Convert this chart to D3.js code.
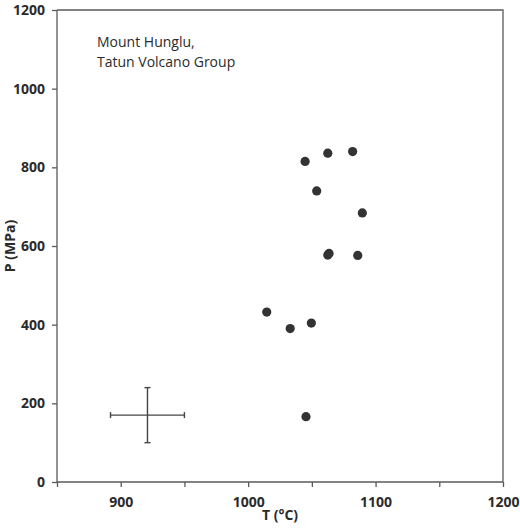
<!DOCTYPE html>
<html>
<head>
<meta charset="utf-8">
<script src="https://cdn.jsdelivr.net/npm/d3@7"></script>
<style>
  body { margin: 0; background: #fff; }
  svg text { font-family: "Open Sans", "Noto Sans", sans-serif; fill: #2b2b2b; }
  .axis path, .axis line { stroke: #5a5a5a; stroke-width: 1.3px; }
  .axis text { font-size: 14px; font-weight: bold; }
</style>
</head>
<body>
<div id="chart"></div>
<script>
// samples: temperature (°C) and pressure (MPa)
var temps     = [1044.7, 1062.5, 1082, 1053.8, 1089.6, 1062.5, 1063.5, 1086, 1014.6, 1033, 1049.6, 1045.4];
var pressures = [815,    836,    840,  740,    684,    577,    581,    576,  432,    390,  404,    166];

// representative uncertainty (cross)
var errCenter = [921, 170];
var errT = 29;
var errP = 70;

var xTicks = [900, 1000, 1100, 1200];
var xMinor = [850, 950, 1050, 1150];
var yTicks = [0, 200, 400, 600, 800, 1000, 1200];

var label = ['Mount Hunglu,', 'Tatun Volcano Group'];

var width = 520, height = 532;
var margin = {top: 10, right: 17, bottom: 50, left: 57};
var w = width - margin.left - margin.right,
    h = height - margin.top - margin.bottom;

var svg = d3.select('#chart').append('svg')
    .attr('width', width)
    .attr('height', height);

var g = svg.append('g')
    .attr('transform', 'translate(' + margin.left + ',' + margin.top + ')');

var xScale = d3.scaleLinear().domain([850, 1200]).range([0, w]);
var yScale = d3.scaleLinear().domain([0, 1200]).range([h, 0]);

// frame (top and right)
g.append('path')
    .attr('d', 'M0,0H' + w + 'V' + h)
    .attr('fill', 'none')
    .attr('stroke', '#5a5a5a')
    .attr('stroke-width', 1.3);

var xAxis = d3.axisBottom(xScale)
    .tickValues(xTicks.concat(xMinor))
    .tickSize(5)
    .tickPadding(10)
    .tickFormat(function(d) { return xTicks.indexOf(d) >= 0 ? d3.format('d')(d) : ''; });

g.append('g')
    .attr('class', 'axis axis--x')
    .attr('transform', 'translate(0,' + h + ')')
    .call(xAxis)
    .call(function(s) { s.select('.domain').attr('d', 'M0,0H' + w); });

var yAxis = d3.axisLeft(yScale)
    .tickValues(yTicks)
    .tickSize(5)
    .tickPadding(7)
    .tickFormat(d3.format('d'));

g.append('g')
    .attr('class', 'axis axis--y')
    .call(yAxis)
    .call(function(s) { s.select('.domain').attr('d', 'M0,' + h + 'V0'); });

// axis titles
svg.append('text')
    .attr('x', margin.left + w / 2)
    .attr('y', 520)
    .attr('text-anchor', 'middle')
    .style('font-size', '14px')
    .style('font-weight', 'bold')
    .text('T (°C)');

svg.append('text')
    .attr('transform', 'translate(15,' + (margin.top + h / 2) + ') rotate(-90)')
    .attr('text-anchor', 'middle')
    .style('font-size', '14px')
    .style('font-weight', 'bold')
    .text('P (MPa)');

// site label
svg.append('text')
    .attr('x', 97)
    .attr('y', 47)
    .style('font-size', '14px')
    .selectAll('tspan')
    .data(label)
    .enter().append('tspan')
        .attr('x', 97)
        .attr('dy', function(d, i) { return i ? 20 : 0; })
        .text(function(d) { return d; });

// error cross
var cx = xScale(errCenter[0]), cy = yScale(errCenter[1]);
var err = g.append('g')
    .attr('stroke', '#444')
    .attr('stroke-width', 1.4);
err.append('line')
    .attr('x1', xScale(errCenter[0] - errT)).attr('x2', xScale(errCenter[0] + errT))
    .attr('y1', cy).attr('y2', cy);
err.append('line')
    .attr('x1', cx).attr('x2', cx)
    .attr('y1', yScale(errCenter[1] - errP)).attr('y2', yScale(errCenter[1] + errP));
[errCenter[0] - errT, errCenter[0] + errT].forEach(function(t) {
    err.append('line')
        .attr('x1', xScale(t)).attr('x2', xScale(t))
        .attr('y1', cy - 3).attr('y2', cy + 3);
});
[errCenter[1] - errP, errCenter[1] + errP].forEach(function(p) {
    err.append('line')
        .attr('x1', cx - 3).attr('x2', cx + 3)
        .attr('y1', yScale(p)).attr('y2', yScale(p));
});

// data points
g.selectAll('.dot')
    .data(temps)
    .enter().append('circle')
        .attr('class', 'dot')
        .attr('cx', function(d) { return xScale(d); })
        .attr('cy', function(d, i) { return yScale(pressures[i]); })
        .attr('r', 4.6)
        .attr('fill', '#333');
</script>
</body>
</html>
